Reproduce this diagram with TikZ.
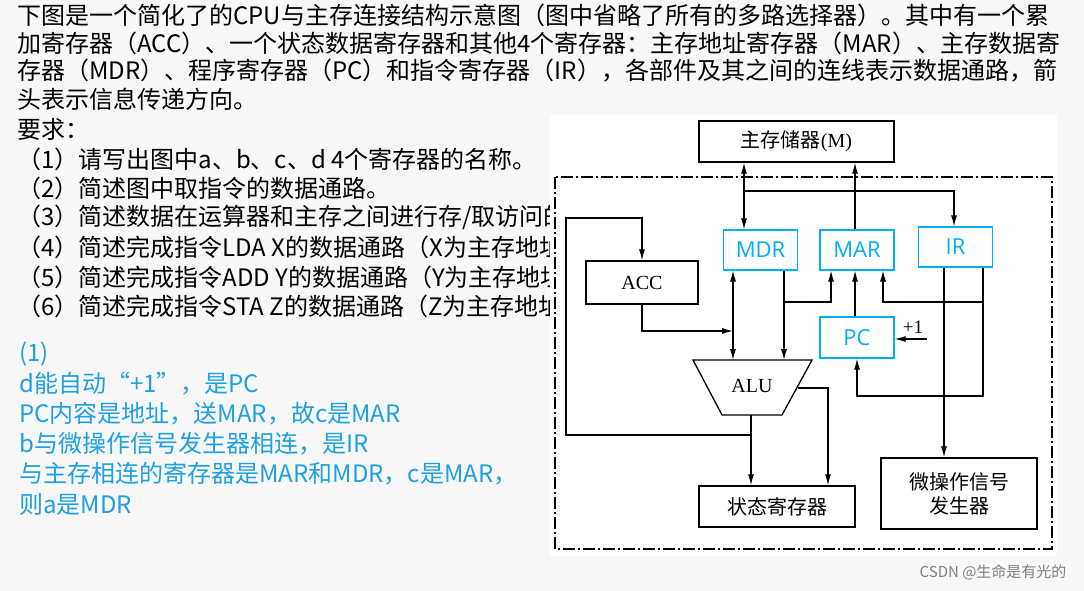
\documentclass[tikz,border=0pt]{standalone}
\usepackage{fontspec}
\setmainfont{Liberation Serif}
\newfontfamily\cjk{Noto Sans CJK SC}
\newfontfamily\regfont{Open Sans}
\usetikzlibrary{positioning,arrows.meta,calc}
\definecolor{ansblue}{RGB}{30,160,225}
\definecolor{regcyan}{RGB}{0,176,240}
\definecolor{pagegray}{RGB}{248,248,248}

\begin{document}
\begin{tikzpicture}[x=1pt, y=-1pt,
    block/.style={rectangle, draw=black, line width=1.3pt, inner sep=0pt, font=\cjk\fontsize{20}{24}\selectfont},
    reg/.style={rectangle, draw=regcyan, line width=1.1pt, fill=white, inner sep=0pt, minimum width=74pt, minimum height=40pt, text=regcyan, font=\regfont\fontsize{22}{26}\selectfont},
    task/.style={anchor=west, inner sep=0pt, font=\cjk\fontsize{24}{28}\selectfont},
    answer/.style={task, text=ansblue},
    wire/.style={line width=1.2pt, -{Latex[length=11pt,width=6pt]}},
    bothwire/.style={wire, {Latex[length=11pt,width=6pt]}-{Latex[length=11pt,width=6pt]}}
]
\useasboundingbox (0,0) rectangle (1084,591);
\fill[pagegray] (0,0) rectangle (1084,591);

% Question text
\node[task] (q1) at (17,15) {下图是一个简化了的CPU与主存连接结构示意图（图中省略了所有的多路选择器）。其中有一个累};
\node[task] (q2) at (17,43) {加寄存器（ACC）、一个状态数据寄存器和其他4个寄存器：主存地址寄存器（MAR）、主存数据寄};
\node[task] (q3) at (17,71) {存器（MDR）、程序寄存器（PC）和指令寄存器（IR），各部件及其之间的连线表示数据通路，箭};
\node[task] (q4) at (17,99) {头表示信息传递方向。};
\node[task] (req) at (17,129) {要求：};
\node[task] (r1) at (17,159) {（1）请写出图中a、b、c、d 4个寄存器的名称。};
\node[task] (r2) at (17,188) {（2）简述图中取指令的数据通路。};
\node[task] (r3) at (17,217) {（3）简述数据在运算器和主存之间进行存/取访问的数据通路。};
\node[task] (r4) at (17,247) {（4）简述完成指令LDA X的数据通路（X为主存地址）。};
\node[task] (r5) at (17,277) {（5）简述完成指令ADD Y的数据通路（Y为主存地址）。};
\node[task] (r6) at (17,306) {（6）简述完成指令STA Z的数据通路（Z为主存地址）。};

% Answer text
\node[answer] (a0) at (19,354) {(1)};
\node[answer] (a1) at (19,384) {d能自动“+1”，是PC};
\node[answer] (a2) at (19,414) {PC内容是地址，送MAR，故c是MAR};
\node[answer] (a3) at (19,444) {b与微操作信号发生器相连，是IR};
\node[answer] (a4) at (19,474) {与主存相连的寄存器是MAR和MDR，c是MAR，};
\node[answer] (a5) at (19,504) {则a是MDR};

% Diagram panel
\fill[white] (550,115) rectangle (1057,556);
\draw[line width=1.3pt, dash pattern=on 12pt off 3pt on 2pt off 3pt] (555,177) rectangle (1052,549);

% Blocks
\node[block, minimum width=195pt, minimum height=41pt] (mem) at (796.5,141.5) {主存储器\textrm{(M)}};
\node[reg] (mdr) at (760.5,250) {MDR};
\node[reg] (mar) at (857,250) {MAR};
\node[reg] (ir) at (955.5,247) {IR};
\node[block, minimum width=112pt, minimum height=43pt, font=\fontsize{20}{24}\selectfont] (acc) at (642,282.5) {ACC};
\node[reg, minimum height=41pt] (pc) at (857,337.5) {PC};
\node[block, minimum width=156pt, minimum height=41pt] (sr) at (777,506.5) {状态寄存器};
\node[block, minimum width=156pt, minimum height=71pt, align=center] (mig) at (959,493.5) {微操作信号\\发生器};

% ALU
\draw[line width=1.3pt] (693,360) -- (812,360) -- (782,415) -- (722,415) -- cycle;
\node[font=\fontsize{20}{24}\selectfont] (alu) at (752,386) {ALU};
\coordinate (alutop) at (752,360);
\coordinate (alubot) at (751,415);

% Memory and registers
\draw[bothwire] (mem.south -| 744,0) -- (mdr.north -| 744,0);
\draw[wire] (744,191) -| (ir.north -| 954,0);
\draw[wire] (mar.north -| 855,0) -- (mem.south -| 855,0);

% ACC loop
\draw[wire] (alubot) -- (751,435) -| (566,218) -| (acc.north);
\draw[wire] (acc.south) |- (733,331);
\draw[bothwire] (mdr.south -| 733,0) -- (alutop -| 733,0);
\draw[wire] (alubot) -- (sr.north -| alubot);

% MDR to ALU and MAR
\draw[wire] (mdr.south -| 784,0) -- (alutop -| 784,0);
\draw[wire] (784,302) -| (mar.south -| 831,0);
\draw[wire] (pc.north -| 855,0) -- (mar.south -| 855,0);

% IR outputs
\draw[wire] (ir.south -| 944,0) -- (mig.north -| 944,0);
\draw[wire] (ir.south -| 983,0) |- (857,396) -- (pc.south -| 857,0);
\draw[wire] (983,302) -| (mar.south -| 883,0);

% +1 and ALU flags
\draw[wire] (927,339) -- (pc.east |- 0,339);
\node[font=\fontsize{19}{22}\selectfont] (inc) at (913,327) {+1};
\draw[wire] (798,388) -| (sr.north -| 828,0);

% Watermark
\node[font=\cjk\fontsize{15}{18}\selectfont, text=gray, anchor=east] (wm) at (1070,572) {CSDN @生命是有光的};
\end{tikzpicture}
\end{document}
